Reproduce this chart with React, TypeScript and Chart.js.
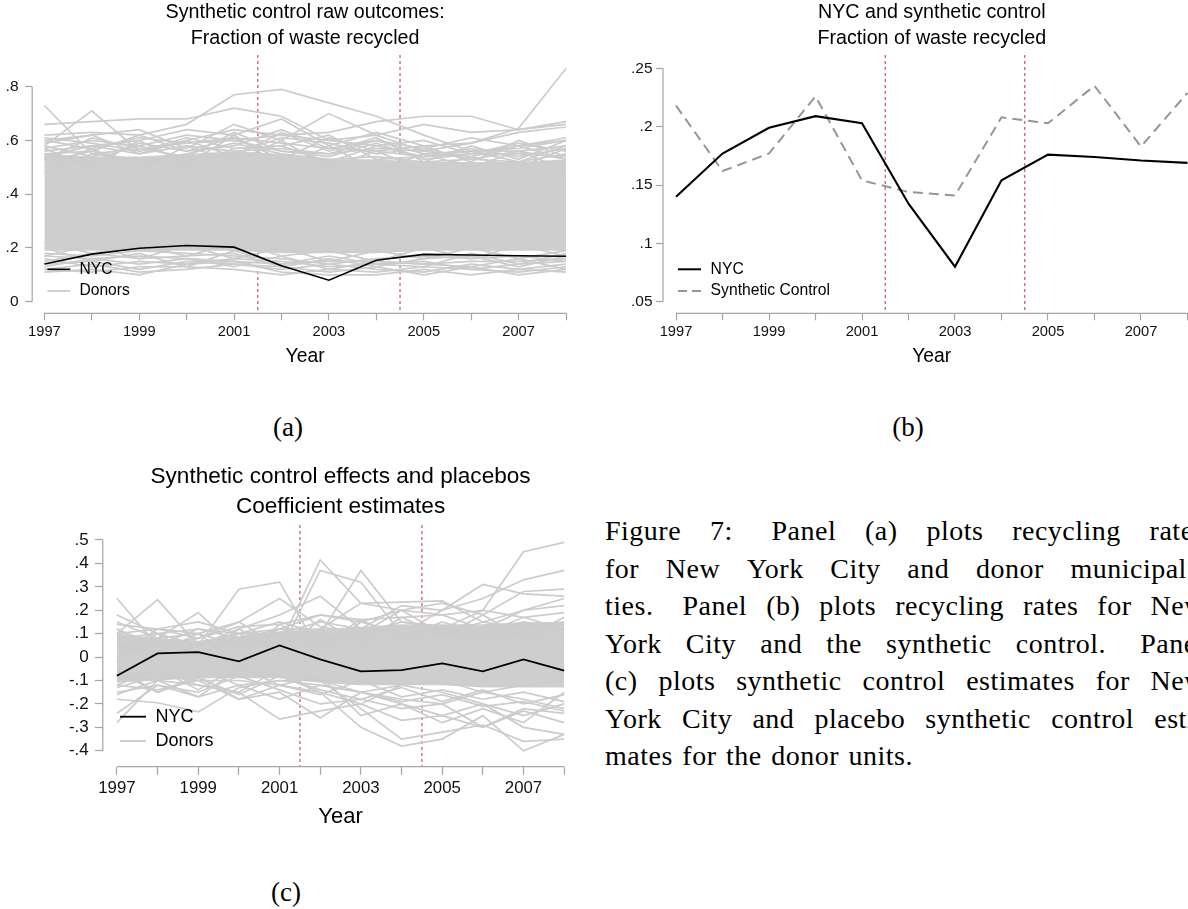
import { useEffect, useRef } from 'react';
import { Chart, registerables } from 'chart.js';

Chart.register(...registerables);

// ---------------- DATA ----------------
const years = [1997, 1998, 1999, 2000, 2001, 2002, 2003, 2004, 2005, 2006, 2007, 2008];
const labelYears = [1997, 1999, 2001, 2003, 2005, 2007];
const treatmentMarks = [2001.5, 2004.5];

// Panel (a) / (b): fraction of waste recycled
const nycRecycled = [0.140, 0.177, 0.199, 0.209, 0.203, 0.134, 0.080, 0.154, 0.176, 0.174, 0.171, 0.169];
const synthRecycled = [0.218, 0.162, 0.177, 0.226, 0.154, 0.144, 0.141, 0.208, 0.203, 0.235, 0.183, 0.229];

// dense core of the donor lines in panel (a)
const donorCoreLowA = [0.19, 0.19, 0.19, 0.19, 0.19, 0.18, 0.18, 0.18, 0.19, 0.19, 0.19, 0.19];
const donorCoreHighA = [0.55, 0.54, 0.54, 0.55, 0.56, 0.55, 0.53, 0.53, 0.52, 0.52, 0.52, 0.53];
const donorLinesA = [
  [0.73, 0.55, 0.57, 0.59, 0.61, 0.59, 0.57, 0.56, 0.54, 0.55, 0.55, 0.54],
  [0.66, 0.67, 0.68, 0.68, 0.72, 0.69, 0.60, 0.62, 0.56, 0.54, 0.58, 0.53],
  [0.62, 0.63, 0.62, 0.66, 0.77, 0.79, 0.74, 0.69, 0.62, 0.56, 0.57, 0.60],
  [0.58, 0.71, 0.56, 0.60, 0.64, 0.62, 0.63, 0.67, 0.69, 0.69, 0.64, 0.66],
  [0.60, 0.62, 0.64, 0.57, 0.66, 0.60, 0.70, 0.62, 0.66, 0.63, 0.64, 0.67],
  [0.56, 0.58, 0.60, 0.64, 0.62, 0.68, 0.58, 0.63, 0.58, 0.59, 0.645, 0.868],
  [0.57, 0.60, 0.58, 0.62, 0.60, 0.62, 0.60, 0.58, 0.60, 0.55, 0.58, 0.61],
  [0.55, 0.56, 0.62, 0.56, 0.58, 0.64, 0.57, 0.60, 0.55, 0.56, 0.56, 0.58],
  [0.54, 0.58, 0.55, 0.58, 0.56, 0.57, 0.55, 0.57, 0.56, 0.59, 0.63, 0.65],
  [0.52, 0.56, 0.52, 0.55, 0.59, 0.55, 0.53, 0.54, 0.52, 0.53, 0.52, 0.55],
  [0.58, 0.54, 0.58, 0.53, 0.55, 0.61, 0.59, 0.55, 0.57, 0.53, 0.56, 0.53],
  [0.61, 0.59, 0.56, 0.61, 0.57, 0.58, 0.62, 0.53, 0.54, 0.57, 0.54, 0.57],
  [0.53, 0.61, 0.57, 0.54, 0.63, 0.56, 0.54, 0.59, 0.53, 0.55, 0.59, 0.56],
  [0.50, 0.57, 0.49, 0.58, 0.52, 0.60, 0.50, 0.56, 0.49, 0.54, 0.50, 0.57],
  [0.57, 0.50, 0.60, 0.51, 0.62, 0.50, 0.58, 0.49, 0.55, 0.50, 0.56, 0.49],
  [0.59, 0.62, 0.55, 0.60, 0.54, 0.63, 0.56, 0.61, 0.52, 0.58, 0.53, 0.60],
  [0.55, 0.52, 0.59, 0.56, 0.61, 0.53, 0.61, 0.56, 0.58, 0.52, 0.60, 0.54],
  [0.48, 0.55, 0.53, 0.50, 0.57, 0.58, 0.52, 0.58, 0.54, 0.56, 0.52, 0.58],
  [0.60, 0.57, 0.61, 0.59, 0.60, 0.56, 0.55, 0.60, 0.57, 0.61, 0.58, 0.60],
  [0.11, 0.12, 0.10, 0.14, 0.15, 0.11, 0.10, 0.10, 0.12, 0.10, 0.12, 0.11],
  [0.12, 0.11, 0.13, 0.13, 0.12, 0.10, 0.12, 0.11, 0.13, 0.12, 0.11, 0.13],
  [0.14, 0.15, 0.12, 0.15, 0.14, 0.12, 0.14, 0.12, 0.11, 0.14, 0.12, 0.14],
  [0.16, 0.13, 0.15, 0.14, 0.16, 0.15, 0.13, 0.14, 0.15, 0.12, 0.14, 0.15],
  [0.17, 0.16, 0.17, 0.16, 0.15, 0.14, 0.15, 0.15, 0.14, 0.15, 0.15, 0.16],
  [0.18, 0.17, 0.19, 0.18, 0.17, 0.16, 0.14, 0.16, 0.17, 0.16, 0.17, 0.15],
  [0.15, 0.18, 0.16, 0.17, 0.18, 0.13, 0.16, 0.13, 0.16, 0.17, 0.13, 0.17],
  [0.22, 0.18, 0.21, 0.17, 0.22, 0.17, 0.19, 0.15, 0.20, 0.16, 0.21, 0.17],
  [0.17, 0.21, 0.16, 0.21, 0.16, 0.20, 0.15, 0.19, 0.16, 0.20, 0.16, 0.19],
  [0.13, 0.16, 0.14, 0.16, 0.13, 0.17, 0.12, 0.15, 0.14, 0.13, 0.16, 0.12],
  [0.20, 0.15, 0.18, 0.13, 0.19, 0.14, 0.17, 0.14, 0.13, 0.18, 0.14, 0.18],
  [0.12, 0.14, 0.11, 0.12, 0.14, 0.13, 0.11, 0.13, 0.10, 0.13, 0.10, 0.12],
];

// Panel (c): coefficient estimates
const nycEffect = [-0.080, 0.016, 0.021, -0.018, 0.050, -0.010, -0.061, -0.056, -0.027, -0.061, -0.010, -0.058];
const donorCoreLowC = [-0.11, -0.10, -0.09, -0.09, -0.09, -0.11, -0.12, -0.12, -0.12, -0.13, -0.13, -0.13];
const donorCoreHighC = [0.10, 0.08, 0.07, 0.09, 0.11, 0.12, 0.13, 0.14, 0.14, 0.14, 0.15, 0.15];
const donorLinesC = [
  [0.25, 0.05, 0.02, -0.02, 0.03, 0.05, 0.0, 0.02, 0.04, 0.0, 0.03, 0.02],
  [0.10, 0.245, 0.05, 0.08, 0.06, 0.10, 0.05, 0.08, 0.10, 0.07, 0.10, 0.08],
  [0.15, 0.08, 0.19, 0.03, 0.12, 0.08, 0.10, 0.12, 0.10, 0.12, 0.13, 0.15],
  [0.05, 0.0, 0.05, 0.29, 0.32, 0.02, 0.15, 0.10, 0.12, 0.10, 0.15, 0.12],
  [0.0, 0.12, 0.10, 0.15, 0.25, 0.13, 0.10, 0.20, 0.10, 0.15, 0.20, 0.22],
  [0.12, 0.05, 0.08, 0.15, 0.05, 0.415, 0.23, 0.20, 0.18, 0.12, 0.20, 0.25],
  [0.08, 0.10, 0.12, 0.10, 0.02, 0.37, 0.32, 0.10, 0.05, 0.10, 0.10, 0.05],
  [0.05, 0.02, 0.06, 0.10, 0.15, 0.10, 0.37, 0.15, 0.13, 0.08, 0.15, 0.10],
  [0.10, 0.12, 0.15, 0.10, 0.12, 0.12, 0.23, 0.235, 0.24, 0.15, 0.12, 0.14],
  [0.18, 0.10, 0.05, 0.12, 0.18, 0.26, 0.12, 0.22, 0.20, 0.31, 0.27, 0.26],
  [0.0, 0.05, 0.0, 0.10, 0.10, 0.05, 0.10, 0.15, 0.12, 0.20, 0.45, 0.49],
  [0.05, 0.08, 0.10, 0.05, 0.10, 0.15, 0.12, 0.10, 0.20, 0.25, 0.33, 0.37],
  [0.10, 0.05, 0.12, 0.08, 0.12, 0.18, 0.15, 0.20, 0.23, 0.18, 0.28, 0.29],
  [0.12, 0.02, 0.10, -0.02, 0.14, 0.05, 0.16, 0.08, 0.15, 0.10, 0.17, 0.12],
  [-0.02, 0.10, 0.0, 0.12, 0.02, 0.16, 0.06, 0.17, 0.09, 0.18, 0.08, 0.17],
  [0.14, 0.12, 0.08, 0.13, 0.14, 0.18, 0.16, 0.17, 0.18, 0.20, 0.17, 0.19],
  [-0.28, -0.10, -0.12, -0.15, -0.05, -0.10, -0.15, -0.12, -0.10, -0.15, -0.12, -0.10],
  [-0.24, -0.12, -0.17, -0.05, -0.08, -0.15, -0.20, -0.12, -0.15, -0.20, -0.25, -0.20],
  [-0.18, -0.195, -0.234, -0.13, -0.10, -0.12, -0.15, -0.18, -0.20, -0.15, -0.18, -0.22],
  [-0.12, -0.14, -0.10, -0.18, -0.15, -0.26, -0.15, -0.20, -0.25, -0.30, -0.23, -0.28],
  [-0.10, -0.05, -0.12, -0.15, -0.265, -0.23, -0.20, -0.27, -0.25, -0.20, -0.30, -0.33],
  [-0.13, -0.08, -0.10, -0.10, -0.12, -0.15, -0.30, -0.38, -0.35, -0.25, -0.40, -0.33],
  [-0.08, -0.10, -0.05, -0.12, -0.10, -0.10, -0.22, -0.35, -0.32, -0.29, -0.36, -0.35],
  [-0.15, -0.12, -0.15, -0.08, -0.14, -0.20, -0.18, -0.22, -0.20, -0.30, -0.22, -0.24],
  [-0.05, -0.15, -0.08, -0.18, -0.12, -0.08, -0.25, -0.20, -0.28, -0.22, -0.28, -0.15],
  [-0.12, -0.05, -0.14, -0.04, -0.12, -0.16, -0.10, -0.17, -0.14, -0.18, -0.15, -0.19],
  [-0.06, -0.15, -0.09, -0.16, -0.08, -0.14, -0.18, -0.13, -0.19, -0.14, -0.20, -0.16],
  [-0.16, -0.10, -0.17, -0.12, -0.18, -0.12, -0.15, -0.19, -0.16, -0.21, -0.19, -0.23],
];

const yTicksA = [0, 0.2, 0.4, 0.6, 0.8];
const yTicksB = [0.05, 0.1, 0.15, 0.2, 0.25];
const yTicksC = [-0.4, -0.3, -0.2, -0.1, 0, 0.1, 0.2, 0.3, 0.4, 0.5];

const captionLines = [
  'Figure 7: Panel (a) plots recycling rates',
  'for New York City and donor municipali-',
  'ties. Panel (b) plots recycling rates for New',
  'York City and the synthetic control. Panel',
  '(c) plots synthetic control estimates for New',
  'York City and placebo synthetic control esti-',
  'mates for the donor units.',
];

// ---------------- STYLE ----------------
const SANS = '"Liberation Sans", Arial, Helvetica, sans-serif';
const SERIF = '"Liberation Serif", "Times New Roman", serif';
const DONOR = 'rgb(204,204,204)';
const CORE = 'rgb(206,206,206)';
const AXIS = 'rgb(165,165,165)';
const MARK = 'rgb(205,90,140)';

const pts = (vals: number[]) => years.map((x, i) => ({ x, y: vals[i] }));
const stataNum = (v: number) => {
  const r = Math.round(v * 1000) / 1000;
  if (r === 0) return '0';
  return String(r).replace(/^(-?)0\./, '$1.');
};

const treatLinesPlugin = {
  id: 'treatLines',
  beforeDatasetsDraw(chart: any, _a: any, o: any) {
    const { ctx, chartArea, scales } = chart;
    ctx.save();
    ctx.strokeStyle = o.color;
    ctx.lineWidth = o.width;
    ctx.setLineDash(o.dash);
    o.values.forEach((v: number) => {
      const x = scales.x.getPixelForValue(v);
      ctx.beginPath();
      ctx.moveTo(x, chartArea.top);
      ctx.lineTo(x, chartArea.bottom);
      ctx.stroke();
    });
    ctx.restore();
  },
};

const stataAxesPlugin = {
  id: 'stataAxes',
  afterDraw(chart: any, _a: any, o: any) {
    const { ctx, chartArea, scales } = chart;
    ctx.save();
    ctx.strokeStyle = AXIS;
    ctx.lineWidth = 1.2;
    ctx.beginPath();
    ctx.moveTo(chartArea.left, scales.y.getPixelForValue(Math.max(...o.yTicks)));
    ctx.lineTo(chartArea.left, scales.y.getPixelForValue(Math.min(...o.yTicks)));
    ctx.moveTo(scales.x.getPixelForValue(years[0]), chartArea.bottom);
    ctx.lineTo(scales.x.getPixelForValue(years[years.length - 1]), chartArea.bottom);
    ctx.stroke();
    ctx.restore();
  },
};

const legendPlugin = {
  id: 'stataLegend',
  afterDraw(chart: any, _a: any, o: any) {
    const { ctx, chartArea } = chart;
    ctx.save();
    ctx.font = `${o.fontSize}px ${SANS}`;
    ctx.textBaseline = 'middle';
    ctx.textAlign = 'left';
    o.items.forEach((it: any, i: number) => {
      const y = chartArea.bottom + o.rows[i];
      ctx.beginPath();
      ctx.setLineDash(it.dash || []);
      ctx.strokeStyle = it.color;
      ctx.lineWidth = it.width;
      ctx.moveTo(chartArea.left + o.x0, y);
      ctx.lineTo(chartArea.left + o.x1, y);
      ctx.stroke();
      ctx.setLineDash([]);
      ctx.fillStyle = '#000';
      ctx.fillText(it.label, chartArea.left + o.tx, y);
    });
    ctx.restore();
  },
};

function donorDatasets(lines: number[][], low: number[], high: number[], width: number) {
  const ds: any[] = lines.map((l) => ({
    data: pts(l),
    borderColor: DONOR,
    borderWidth: width,
    fill: false,
  }));
  ds.push({ data: pts(high), borderWidth: 0, borderColor: CORE, backgroundColor: CORE, fill: '+1' });
  ds.push({ data: pts(low), borderWidth: 0, borderColor: CORE, fill: false });
  return ds;
}

function buildConfig(p: any) {
  return {
    type: 'line',
    data: { datasets: p.datasets },
    plugins: [treatLinesPlugin, stataAxesPlugin, legendPlugin],
    options: {
      animation: false,
      responsive: false,
      events: [],
      layout: { padding: { left: 0, top: 0, bottom: 0, right: p.padRight } },
      elements: { point: { radius: 0 }, line: { tension: 0 } },
      plugins: {
        legend: { display: false },
        tooltip: { enabled: false },
        title: {
          display: true,
          fullSize: false,
          text: p.title,
          color: '#000',
          font: { family: SANS, size: p.titleSize, weight: 'normal', lineHeight: p.titleLH / p.titleSize },
          padding: { top: p.titlePadTop, bottom: p.titlePadBottom },
        },
        treatLines: { values: treatmentMarks, color: MARK, width: 1.3, dash: [3, 3] },
        stataAxes: { yTicks: p.yTicks },
        stataLegend: p.legend,
      },
      scales: {
        x: {
          type: 'linear',
          min: p.xMin,
          max: p.xMax,
          afterBuildTicks: (s: any) => {
            s.ticks = years.map((v) => ({ value: v }));
          },
          afterFit: (s: any) => {
            s.height = p.xHeight;
          },
          ticks: {
            autoSkip: false,
            maxRotation: 0,
            color: '#111',
            padding: p.xTickPad,
            font: { family: SANS, size: p.xTickSize },
            callback: (v: number) => (labelYears.includes(v) ? String(v) : ''),
          },
          grid: { display: true, drawOnChartArea: false, drawTicks: true, tickLength: p.tickLen, color: AXIS, tickColor: AXIS, tickWidth: 1.2 },
          border: { display: false },
          title: {
            display: true,
            text: 'Year',
            color: '#000',
            font: { family: SANS, size: p.xTitleSize, lineHeight: 1.2 },
            padding: { top: 0, bottom: p.xTitlePad },
          },
        },
        y: {
          type: 'linear',
          min: p.yMin,
          max: p.yMax,
          afterBuildTicks: (s: any) => {
            s.ticks = p.yTicks.map((v: number) => ({ value: v }));
          },
          afterFit: (s: any) => {
            s.width = p.yWidth;
          },
          ticks: {
            autoSkip: false,
            color: '#111',
            padding: p.yTickPad,
            font: { family: SANS, size: p.yTickSize },
            callback: (v: number) => stataNum(v),
          },
          grid: { display: true, drawOnChartArea: false, drawTicks: true, tickLength: p.tickLen, color: AXIS, tickColor: AXIS, tickWidth: 1.2 },
          border: { display: false },
        },
      },
    },
  };
}

const panelA = {
  left: 0, top: 0, w: 590, h: 380, padRight: 12,
  title: ['Synthetic control raw outcomes:', 'Fraction of waste recycled'],
  titleSize: 19.7, titleLH: 26, titlePadTop: 0, titlePadBottom: 3,
  xMin: 1996.743, xMax: 2008.253, xHeight: 66.7, xTickPad: 2.6, xTickSize: 14.7, xTitleSize: 19.3, xTitlePad: 11.4,
  yMin: -0.0432, yMax: 0.918, yTicks: yTicksA, yWidth: 32.2, yTickPad: 6.7, yTickSize: 15.5, tickLen: 7,
  legend: {
    fontSize: 15.6, x0: 15.2, x1: 38.1, tx: 47.3, rows: [-44, -22.3],
    items: [
      { label: 'NYC', color: '#000', width: 1.6 },
      { label: 'Donors', color: DONOR, width: 1.8 },
    ],
  },
  datasets: [
    { data: pts(nycRecycled), borderColor: '#000', borderWidth: 1.6, fill: false },
    ...donorDatasets(donorLinesA, donorCoreLowA, donorCoreHighA, 1.7),
  ],
};

const panelB = {
  left: 610, top: 0, w: 603, h: 380, padRight: 12.5,
  title: ['NYC and synthetic control', 'Fraction of waste recycled'],
  titleSize: 19.7, titleLH: 26, titlePadTop: 0, titlePadBottom: 3,
  xMin: 1996.72, xMax: 2008.28, xHeight: 66.7, xTickPad: 2.6, xTickSize: 14.7, xTitleSize: 19.3, xTitlePad: 11.4,
  yMin: 0.0401, yMax: 0.2614, yTicks: yTicksB, yWidth: 53, yTickPad: 3.5, yTickSize: 15.5, tickLen: 7,
  legend: {
    fontSize: 15.7, x0: 15, x1: 38, tx: 47.6, rows: [-44, -22.3],
    items: [
      { label: 'NYC', color: '#000', width: 2 },
      { label: 'Synthetic Control', color: 'rgb(150,150,150)', width: 1.8, dash: [9, 5] },
    ],
  },
  datasets: [
    { data: pts(nycRecycled), borderColor: '#000', borderWidth: 2.1, fill: false },
    { data: pts(synthRecycled), borderColor: 'rgb(150,150,150)', borderWidth: 2, borderDash: [10, 6], fill: false },
  ],
};

const panelC = {
  left: 0, top: 460, w: 590, h: 390, padRight: 11.7,
  title: ['Synthetic control effects and placebos', 'Coefficient estimates'],
  titleSize: 22.6, titleLH: 30, titlePadTop: 1.7, titlePadBottom: 3.3,
  xMin: 1996.653, xMax: 2008.347, xHeight: 83.3, xTickPad: 3.4, xTickSize: 16.8, xTitleSize: 22, xTitlePad: 19.5,
  yMin: -0.468, yMax: 0.564, yTicks: yTicksC, yWidth: 102.8, yTickPad: 6, yTickSize: 17, tickLen: 8,
  legend: {
    fontSize: 18, x0: 17.2, x1: 43.2, tx: 52.6, rows: [-50, -25.7],
    items: [
      { label: 'NYC', color: '#000', width: 1.8 },
      { label: 'Donors', color: DONOR, width: 1.9 },
    ],
  },
  datasets: [
    { data: pts(nycEffect), borderColor: '#000', borderWidth: 1.8, fill: false },
    ...donorDatasets(donorLinesC, donorCoreLowC, donorCoreHighC, 1.7),
  ],
};

function ChartPanel({ spec }: { spec: any }) {
  const ref = useRef<HTMLCanvasElement>(null);
  useEffect(() => {
    const chart = new Chart(ref.current as HTMLCanvasElement, buildConfig(spec) as any);
    return () => chart.destroy();
  }, [spec]);
  return (
    <canvas
      ref={ref}
      width={spec.w}
      height={spec.h}
      style={{ position: 'absolute', left: spec.left, top: spec.top, width: spec.w, height: spec.h }}
    />
  );
}

function SubLabel({ text, cx, top }: { text: string; cx: number; top: number }) {
  return (
    <div
      style={{
        position: 'absolute', left: cx - 50, top, width: 100, textAlign: 'center',
        fontFamily: SERIF, fontSize: 27, lineHeight: '38px', color: '#000',
      }}
    >
      {text}
    </div>
  );
}

function Caption() {
  return (
    <div
      style={{
        position: 'absolute', left: 605, top: 512, width: 600,
        fontFamily: SERIF, fontSize: 28, lineHeight: '37.5px', letterSpacing: 0.5, color: '#000',
      }}
    >
      {captionLines.map((line, i) =>
        i < captionLines.length - 1 ? (
          <div key={i} style={{ display: 'flex', justifyContent: 'space-between', height: 37.5, whiteSpace: 'nowrap' }}>
            {line.split(' ').map((w, j) => (
              <span key={j} style={{ marginRight: /[.:]$/.test(w) ? 10 : 0 }}>{w}</span>
            ))}
          </div>
        ) : (
          <div key={i} style={{ height: 37.5, whiteSpace: 'nowrap', wordSpacing: 2 }}>{line}</div>
        )
      )}
    </div>
  );
}

export default function App() {
  return (
    <div style={{ position: 'fixed', left: 0, top: 0, width: 1188, height: 909, overflow: 'hidden', background: '#fff' }}>
      <ChartPanel spec={panelA} />
      <ChartPanel spec={panelB} />
      <ChartPanel spec={panelC} />
      <SubLabel text="(a)" cx={288} top={408} />
      <SubLabel text="(b)" cx={908} top={408} />
      <SubLabel text="(c)" cx={286} top={873} />
      <Caption />
    </div>
  );
}
